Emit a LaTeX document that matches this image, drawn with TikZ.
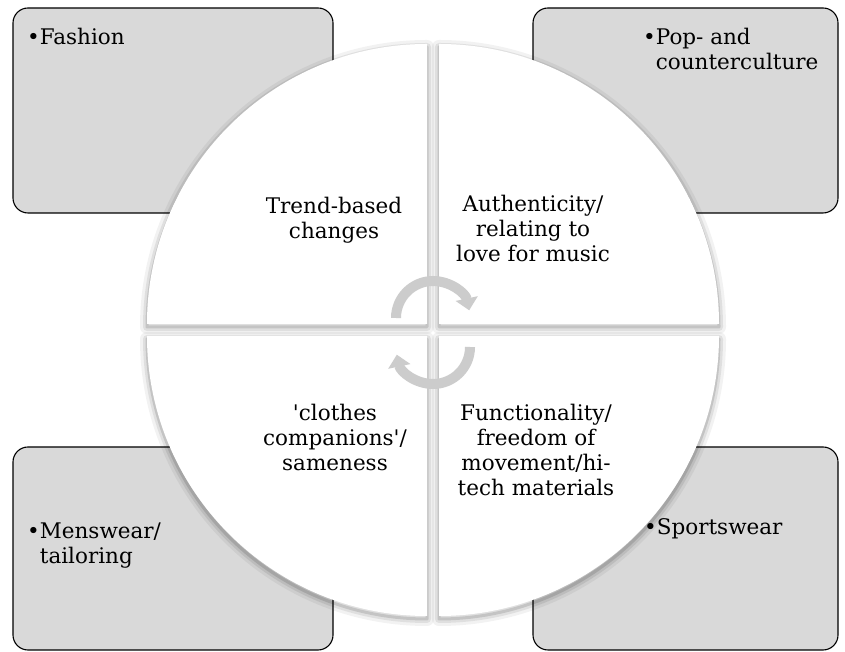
\documentclass[tikz,border=0pt]{standalone}
\usepackage{fontspec}
\setmainfont{DejaVu Serif}
\usetikzlibrary{arrows.meta}

\begin{document}
\begin{tikzpicture}[
x=1pt, y=1pt,
box/.style={
draw,
line width=1.1pt,
fill=black!15,
rounded corners=15pt,
inner sep=0pt
},
lbl/.style={inner sep=0pt, font=\fontsize{21.5}{25}\selectfont},
cycarrow/.style={draw=black!20, line width=10pt, -{Triangle[width=22pt,length=12pt]}}
]
\useasboundingbox (0,0) rectangle (845,652);

\node[box, minimum width=320pt, minimum height=205pt] (bFashion) at (173,541.5) {};
\node[box, minimum width=305pt, minimum height=205pt] (bPop) at (685.5,541.5) {};
\node[box, minimum width=320pt, minimum height=203pt] (bMens) at (173,103.5) {};
\node[box, minimum width=305pt, minimum height=203pt] (bSport) at (685.5,103.5) {};

\foreach \dx/\dy/\a in {-6/6/90, 6/6/0, 6/-6/-90, -6/-6/180} {
  \foreach \w/\o in {14/.05, 8/.08, 3/.12}
    \draw[line width=\w pt, black, opacity=\o, line join=round]
      ({433+\dx},{319+\dy}) -- ++(\a:280) arc (\a:\a+90:280) -- cycle;
}
\foreach \dx/\dy/\a in {-6/6/90, 6/6/0, 6/-6/-90, -6/-6/180}
  \fill[white] ({433+\dx},{322+\dy}) -- ++(\a:280) arc (\a:\a+90:280) -- cycle;

\draw[cycarrow] (433,334) ++(180:37) arc (180:12:37);
\draw[cycarrow] (433,305) ++(0:37) arc (0:-168:37);

\node[lbl, align=center] (trend) at (334,432) {Trend-based\\changes};
\node[lbl, align=center] (auth) at (533,424) {Authenticity/\\relating to\\love for music};
\node[lbl, align=center] (clothes) at (335,215) {\textquotesingle clothes\\companions\textquotesingle/\\sameness};
\node[lbl, align=center] (func) at (536,202) {Functionality/\\freedom of\\movement/hi-\\tech materials};

\node[lbl, align=left, anchor=north west] (fashion) at (27,624) {•Fashion};
\node[lbl, align=left, anchor=north west] (pop) at (643,624) {•Pop- and\\\hphantom{•}counterculture};
\node[lbl, align=left, anchor=north west] (mens) at (27,129) {•Menswear/\\\hphantom{•}tailoring};
\node[lbl, align=left, anchor=north west] (sport) at (644,134) {•Sportswear};

\end{tikzpicture}
\end{document}
